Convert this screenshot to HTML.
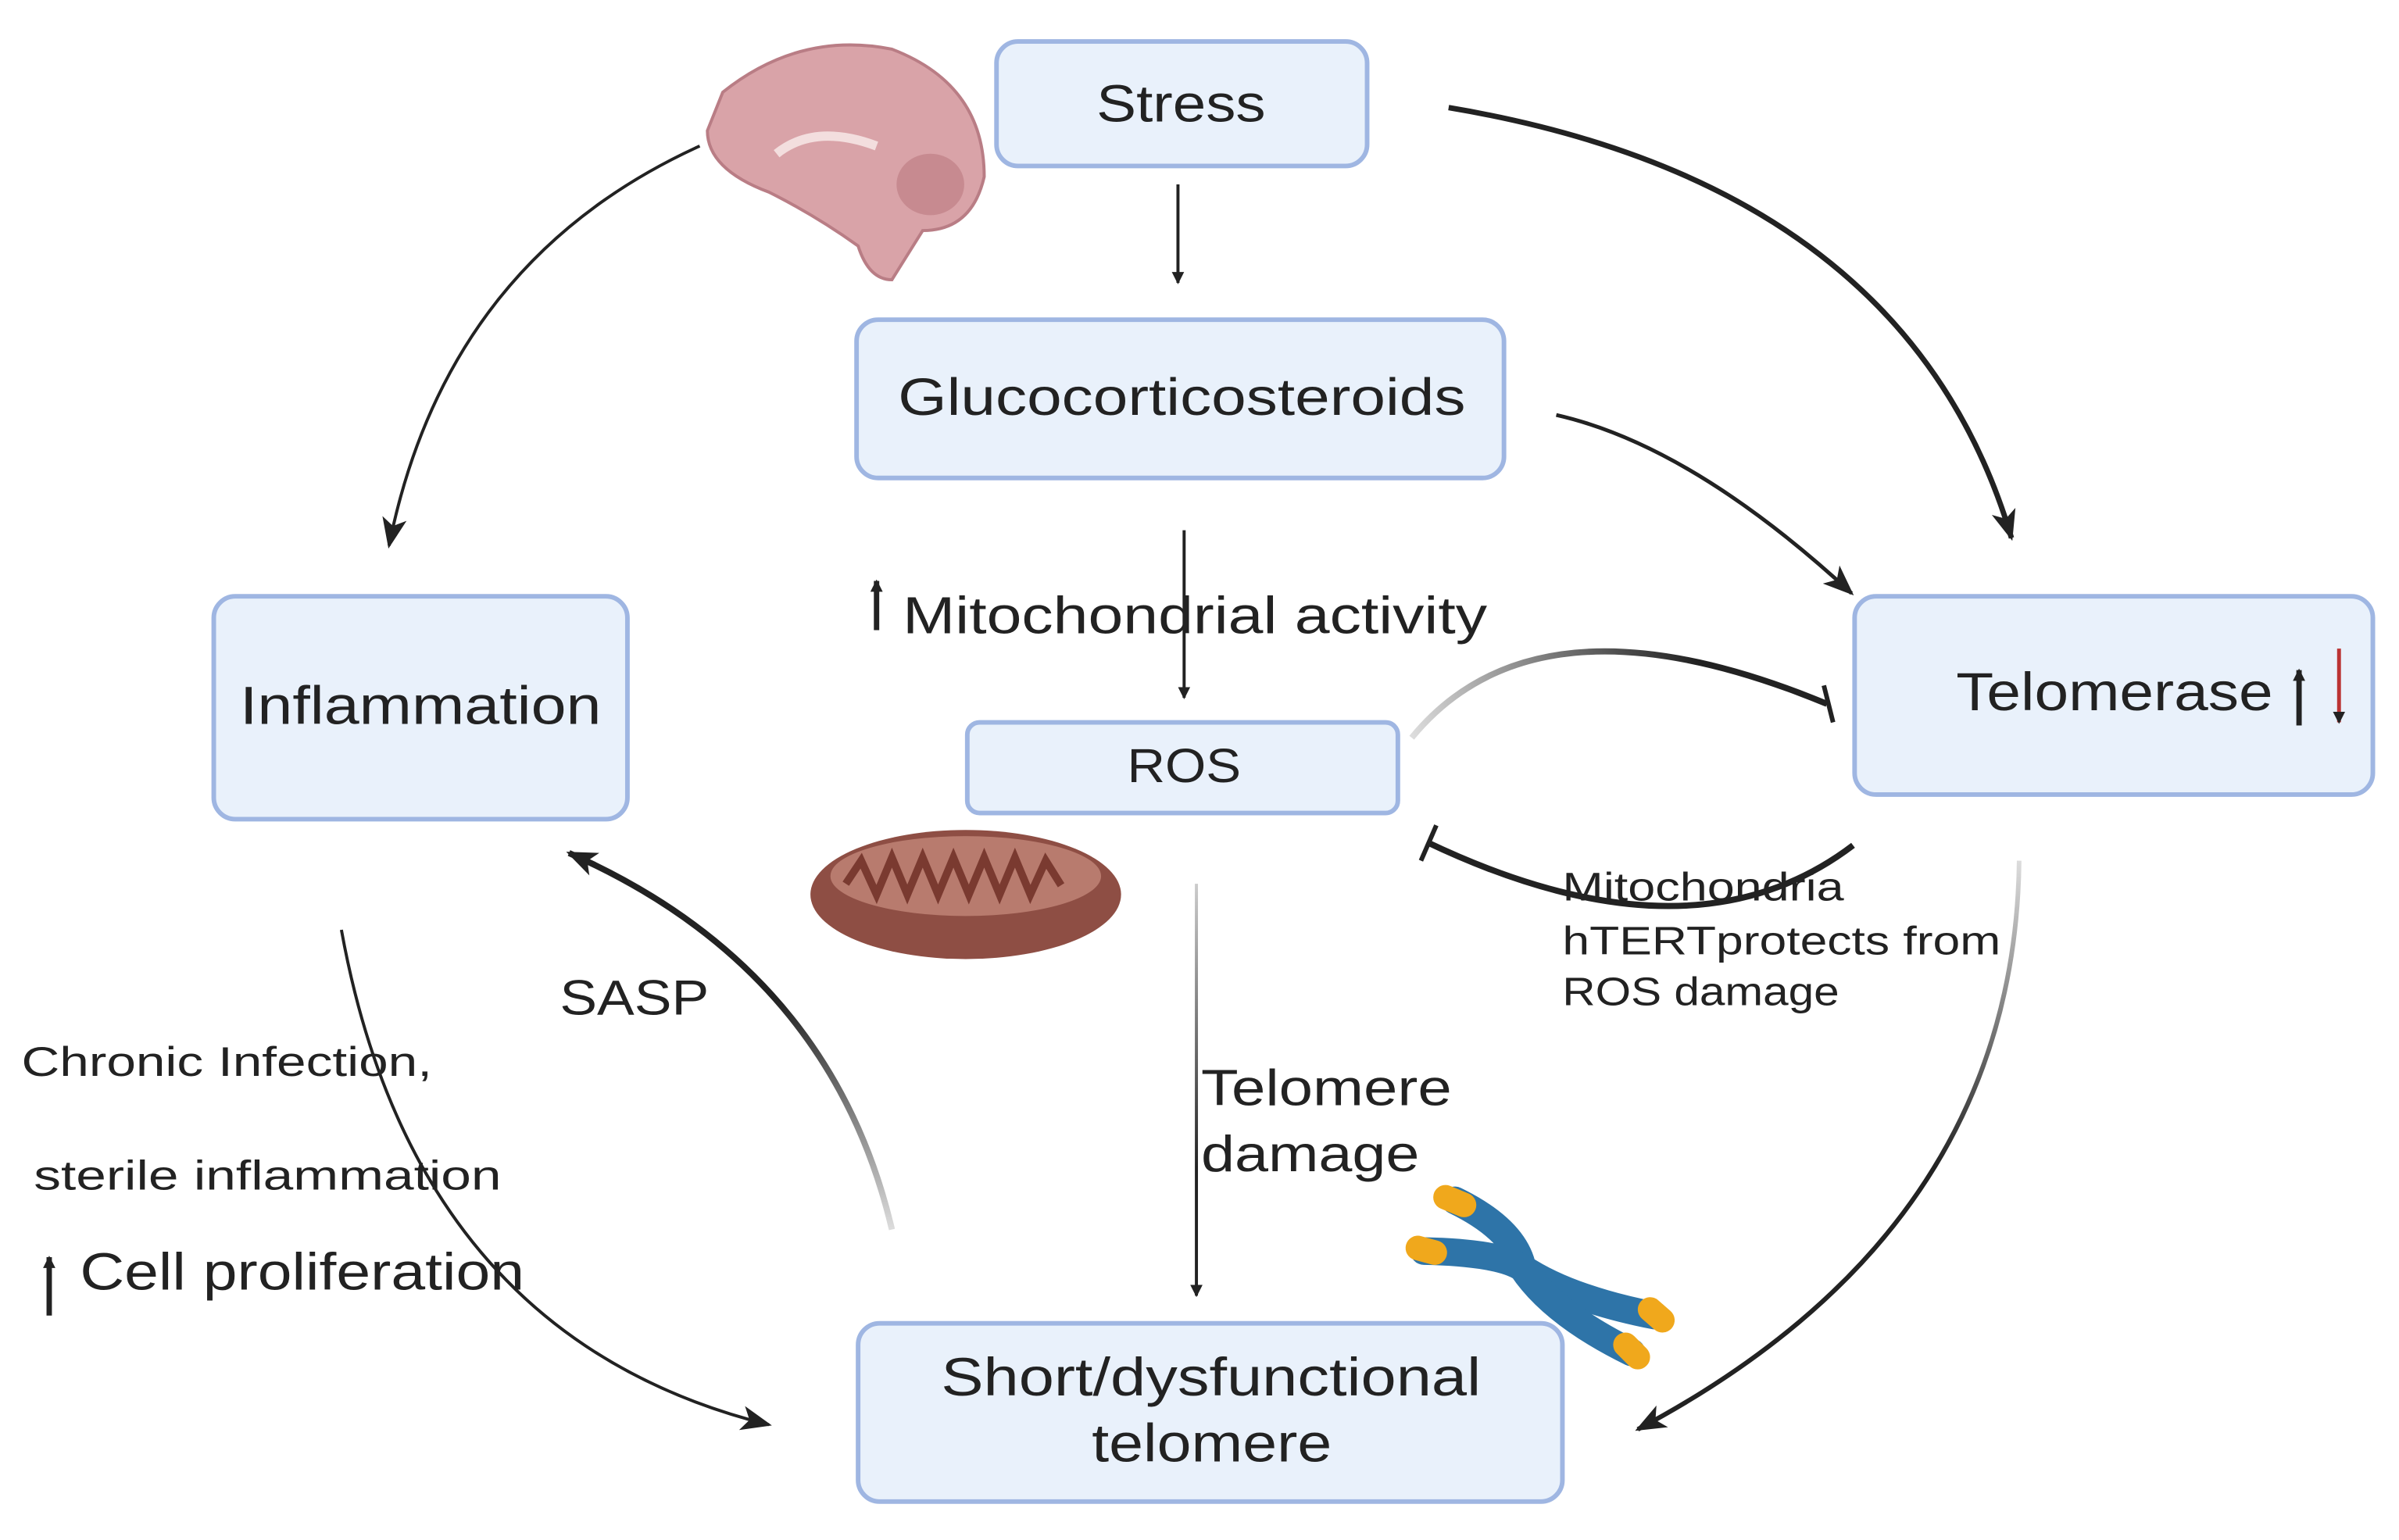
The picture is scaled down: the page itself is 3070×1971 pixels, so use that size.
<!DOCTYPE html>
<html><head><meta charset="utf-8"><style>
html,body{margin:0;padding:0;background:#fff;}
svg{display:block;}
text{font-family:"Liberation Sans",sans-serif;fill:#222;}
</style></head><body>
<svg width="3070" height="1971" viewBox="0 0 1560 1002" preserveAspectRatio="none" xmlns="http://www.w3.org/2000/svg">
<defs>
<marker id="a" markerWidth="8" markerHeight="8" refX="7" refY="4" orient="auto" markerUnits="userSpaceOnUse" viewBox="0 0 8 8"><path d="M0,0 L8,4 L0,8 Z" fill="#222"/></marker>
<marker id="A" markerWidth="20" markerHeight="20" refX="18" refY="10" orient="auto" markerUnits="userSpaceOnUse" viewBox="0 0 20 20"><path d="M0,2 L20,10 L0,18 L5,10 Z" fill="#222"/></marker>
<linearGradient id="g1" gradientUnits="userSpaceOnUse" x1="918" y1="480" x2="1100" y2="420"><stop offset="0" stop-color="#ddd"/><stop offset="1" stop-color="#222"/></linearGradient>
<linearGradient id="g2" gradientUnits="userSpaceOnUse" x1="0" y1="575" x2="0" y2="760"><stop offset="0" stop-color="#ccc"/><stop offset="1" stop-color="#222"/></linearGradient>
<linearGradient id="g3" gradientUnits="userSpaceOnUse" x1="0" y1="800" x2="0" y2="650"><stop offset="0" stop-color="#ddd"/><stop offset="1" stop-color="#222"/></linearGradient>
<linearGradient id="g4" gradientUnits="userSpaceOnUse" x1="0" y1="560" x2="0" y2="760"><stop offset="0" stop-color="#ddd"/><stop offset="1" stop-color="#222"/></linearGradient>
</defs>
<g fill="#e9f1fb" stroke="#9fb6e2" stroke-width="3">
<rect x="648" y="27" width="241" height="81" rx="14"/>
<rect x="557" y="208" width="421" height="103" rx="14"/>
<rect x="139" y="388" width="269" height="145" rx="14"/>
<rect x="629" y="470" width="280" height="59" rx="8"/>
<rect x="1206" y="388" width="337" height="129" rx="14"/>
<rect x="558" y="861" width="458" height="116" rx="14"/>
</g>
<g lengthAdjust="spacingAndGlyphs">
<text x="713" y="79" font-size="34" textLength="110" lengthAdjust="spacingAndGlyphs">Stress</text>
<text x="584" y="270" font-size="34" textLength="369" lengthAdjust="spacingAndGlyphs">Glucocorticosteroids</text>
<text x="156" y="471" font-size="35" textLength="235" lengthAdjust="spacingAndGlyphs">Inflammation</text>
<text x="733" y="509" font-size="31" textLength="74" lengthAdjust="spacingAndGlyphs">ROS</text>
<text x="1272" y="462" font-size="35" textLength="206" lengthAdjust="spacingAndGlyphs">Telomerase</text>
<text x="612" y="908" font-size="35" textLength="351" lengthAdjust="spacingAndGlyphs">Short/dysfunctional</text>
<text x="710" y="951" font-size="35" textLength="156" lengthAdjust="spacingAndGlyphs">telomere</text>
<text x="587" y="412" font-size="34" textLength="380" lengthAdjust="spacingAndGlyphs">Mitochondrial activity</text>
<text x="364" y="660" font-size="32" textLength="97" lengthAdjust="spacingAndGlyphs">SASP</text>
<text x="781" y="719" font-size="33" textLength="163" lengthAdjust="spacingAndGlyphs">Telomere</text>
<text x="781" y="762" font-size="33" textLength="142" lengthAdjust="spacingAndGlyphs">damage</text>
<text x="1016" y="586" font-size="26" textLength="183" lengthAdjust="spacingAndGlyphs">Mitochondria</text>
<text x="1016" y="621" font-size="26" textLength="285" lengthAdjust="spacingAndGlyphs">hTERTprotects  from</text>
<text x="1016" y="654" font-size="26" textLength="180" lengthAdjust="spacingAndGlyphs">ROS damage</text>
<text x="14" y="700" font-size="27" textLength="267" lengthAdjust="spacingAndGlyphs">Chronic Infection,</text>
<text x="22" y="774" font-size="27" textLength="304" lengthAdjust="spacingAndGlyphs">sterile inflammation</text>
<text x="52" y="839" font-size="34" textLength="289" lengthAdjust="spacingAndGlyphs">Cell proliferation</text>
</g>
<g stroke="#222" stroke-width="3.5" fill="none">
<line x1="570" y1="410" x2="570" y2="378" marker-end="url(#a)"/>
<line x1="32" y1="856" x2="32" y2="818" marker-end="url(#a)"/>
<line x1="1495" y1="472" x2="1495" y2="436" marker-end="url(#a)"/>
</g>
<line x1="1521" y1="422" x2="1521" y2="470" stroke="#b33" stroke-width="2.5" marker-end="url(#a)"/>
<g stroke="#222" stroke-width="2" fill="none">
<line x1="766" y1="120" x2="766" y2="184" marker-end="url(#a)"/>
<line x1="770" y1="345" x2="770" y2="454" marker-end="url(#a)"/>
<line x1="778" y1="575" x2="778" y2="843" stroke="url(#g2)" marker-end="url(#a)"/>
</g>
<g fill="none" stroke="#222">
<path d="M942,70 Q1240,120 1308,350" stroke-width="3.5" marker-end="url(#A)"/>
<path d="M1012,270 Q1100,290 1204,386" stroke-width="2.5" marker-end="url(#A)"/>
<path d="M455,95 Q290,170 253,355" stroke-width="2" marker-end="url(#A)"/>
<path d="M222,605 Q270,870 500,927" stroke-width="2" marker-end="url(#A)"/>
<path d="M580,800 Q540,630 370,555" stroke="url(#g3)" stroke-width="4" marker-end="url(#A)"/>
<path d="M1313,560 Q1310,800 1065,930" stroke="url(#g4)" stroke-width="3" marker-end="url(#A)"/>
<path d="M918,480 Q1000,380 1188,458" stroke="url(#g1)" stroke-width="4"/>
<line x1="1186" y1="446" x2="1192" y2="470" stroke-width="3"/>
<path d="M1205,550 Q1100,630 928,548" stroke-width="4"/>
<line x1="924" y1="560" x2="934" y2="537" stroke-width="3"/>
</g>
<g>
<path d="M470,60 Q520,20 580,32 Q640,55 640,115 Q632,150 600,150 L580,182 Q565,182 558,160 Q530,140 500,125 Q460,110 460,85 Z" fill="#d9a3a8" stroke="#b97d85" stroke-width="2"/>
<path d="M505,100 Q530,80 570,95" stroke="#f3dede" stroke-width="6" fill="none"/>
<ellipse cx="605" cy="120" rx="22" ry="20" fill="#c78a90"/>
</g>
<ellipse cx="628" cy="582" rx="101" ry="42" fill="#8e4e44"/>
<ellipse cx="628" cy="570" rx="88" ry="26" fill="#b87b6e"/>
<path d="M550,575 l10,-15 l10,22 l10,-24 l10,24 l10,-24 l10,24 l10,-24 l10,24 l10,-24 l10,24 l10,-24 l10,24 l10,-22 l10,16" stroke="#7a3a30" stroke-width="5" fill="none"/>
<g stroke-linecap="round" fill="none">
<path d="M946,781 Q985,800 990,825 Q1020,845 1076,856" stroke="#2e74a8" stroke-width="18"/>
<path d="M926,814 Q975,815 990,825 Q1010,855 1061,880" stroke="#2e74a8" stroke-width="18"/>
<line x1="940" y1="779" x2="952" y2="784" stroke="#f0a81c" stroke-width="16"/>
<line x1="922" y1="812" x2="933" y2="815" stroke="#f0a81c" stroke-width="16"/>
<line x1="1073" y1="852" x2="1081" y2="859" stroke="#f0a81c" stroke-width="16"/>
<line x1="1057" y1="875" x2="1065" y2="883" stroke="#f0a81c" stroke-width="16"/>
</g>
</svg>
</body></html>
